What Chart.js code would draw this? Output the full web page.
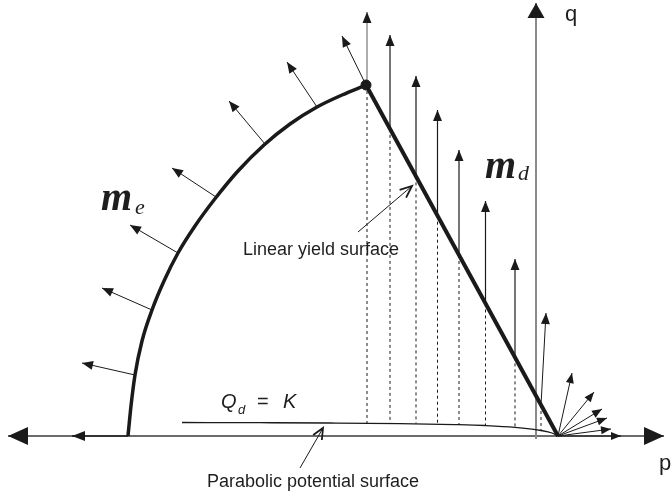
<!DOCTYPE html>
<html lang="en">
<head>
  <meta charset="UTF-8">
  <title>Yield and potential surfaces</title>
  <script src="https://cdn.jsdelivr.net/npm/chart.js"></script>
  <style>
    body { margin: 0; background: #fff; }
    #wrap { width: 671px; height: 502px; }
  </style>
</head>
<body>
  <div id="wrap"><canvas id="surfChart"></canvas></div>

  <script>
    // p runs along the horizontal axis, q is height above it
    const capP = [128, 131, 135, 142, 152, 164, 178, 195, 214, 238, 264, 290, 317, 342, 366];
    const capQ = [0, 30, 61, 95, 126, 155, 183, 210, 236, 265, 291, 312, 329, 341, 351];

    const yieldP = [366, 558];
    const yieldQ = [351, 0];

    const potP = [182, 260, 330, 400, 455, 485, 515, 541, 552, 558];
    const potQ = [13.5, 13.3, 13, 12.4, 11.4, 10.5, 8.7, 5.5, 3, 0];

    // normals on the elliptic cap (tail on the cap, tip outward)
    const capTailP = [135, 152, 178, 216, 265, 317, 366];
    const capTailQ = [61, 126, 183, 239, 292, 329, 351];
    const capTipP = [82, 102, 130, 172, 229, 287, 342];
    const capTipQ = [73, 148, 211, 268, 335, 374, 400];

    // vertical flow directions above the linear surface
    const dirP = [367, 390, 416, 437.5, 459, 485.5, 515];
    const dirTipQ = [424, 401, 360, 326, 286, 235, 177];
    const dirBaseQ = [13, 12.9, 12.6, 12.4, 12, 10.5, 8.7];

    // tilted one close to the tip
    const tiltP = [541, 546];
    const tiltQ = [31, 123];

    // fan of directions at the tip of the cone
    const fanP = [572, 594, 602, 607, 611, 621];
    const fanQ = [63, 44, 27, 18, 7, 0];

    const ink = '#1a1a1a';

    function pts(xs, ys) {
      return xs.map((x, i) => ({ x: x, y: ys[i] }));
    }

    function yieldAt(p) {
      const t = (p - yieldP[0]) / (yieldP[1] - yieldP[0]);
      return yieldQ[0] + t * (yieldQ[1] - yieldQ[0]);
    }

    function seg(data, color, width, head, dash) {
      return {
        data: data,
        showLine: true,
        borderColor: color,
        borderWidth: width,
        borderDash: dash || [],
        pointRadius: 0,
        fill: false,
        head: head || null
      };
    }

    const datasets = [];

    // apex point
    datasets.push({
      data: [{ x: yieldP[0], y: yieldQ[0] }],
      pointRadius: 5,
      pointBackgroundColor: ink,
      pointBorderColor: ink,
      showLine: false
    });

    datasets.push(seg(pts(yieldP, yieldQ), ink, 4));
    datasets.push(Object.assign(seg(pts(capP, capQ), ink, 3.5), { cubicInterpolationMode: 'monotone' }));

    const small = { len: 11, half: 4.5, color: ink };

    capTailP.forEach((p, i) => {
      datasets.push(seg([{ x: p, y: capTailQ[i] }, { x: capTipP[i], y: capTipQ[i] }], ink, 1, small));
    });

    dirP.forEach((p, i) => {
      const q0 = i === 0 ? yieldQ[0] : yieldAt(p);
      datasets.push(seg([{ x: p, y: q0 }, { x: p, y: dirTipQ[i] }], i === 0 ? '#777' : ink, 1.2, small));
      datasets.push(seg([{ x: p, y: q0 }, { x: p, y: dirBaseQ[i] }], ink, 1, null, [3, 3]));
    });

    datasets.push(seg(pts(tiltP, tiltQ), ink, 1, small));
    datasets.push(seg([{ x: tiltP[0], y: tiltQ[0] }, { x: tiltP[0], y: 5.5 }], ink, 1, null, [3, 3]));

    fanP.forEach((p, i) => {
      datasets.push(seg([{ x: yieldP[1], y: 0 }, { x: p, y: fanQ[i] }], ink, 1, { len: 10, half: 4, color: ink }));
    });

    // plastic potential Q_d = K
    datasets.push(Object.assign(seg(pts(potP, potQ), ink, 1.3), { cubicInterpolationMode: 'monotone' }));

    // pointers to the labels
    datasets.push(seg([{ x: 358, y: 204 }, { x: 412, y: 250 }], ink, 1, { len: 12, half: 5, open: true, color: ink }));
    datasets.push(seg([{ x: 300, y: -32 }, { x: 323, y: 8 }], ink, 1, { len: 11, half: 5, open: true, color: ink }));

    // short arrow left from the cap foot
    datasets.push(seg([{ x: capP[0], y: 0 }, { x: 72, y: 0 }], '#333', 2, { len: 13, half: 5, color: ink }));

    // q axis
    datasets.push(seg([{ x: 536, y: -3 }, { x: 536, y: 433 }], '#8a8a8a', 2, { len: 15, half: 8.5, color: ink }));

    // p axis, arrows both ways
    datasets.push(seg([{ x: 8, y: 0 }, { x: 664, y: 0 }], '#3a3a3a', 1.5, { len: 20, half: 9, both: true, color: ink }));

    const sans = '"Liberation Sans", Arial, sans-serif';
    const serif = '"Liberation Serif", serif';
    const labels = [
      { text: 'Linear yield surface', x: 243, y: 181, font: '18px ' + sans },
      { text: 'Parabolic potential surface', x: 207, y: -51, font: '18px ' + sans },
      { text: 'p', x: 659, y: -34, font: '22px ' + sans },
      { text: 'q', x: 565, y: 415, font: '22px ' + sans },
      { text: 'Q', x: 221, y: 28, font: 'italic 20px ' + sans },
      { text: 'd', x: 238, y: 22, font: 'italic 13px ' + sans },
      { text: '=', x: 257, y: 28, font: '20px ' + sans },
      { text: 'K', x: 283, y: 28, font: 'italic 20px ' + sans },
      { text: 'm', x: 101, y: 226, font: 'bold italic 40px ' + serif },
      { text: 'e', x: 135, y: 222, font: 'italic 22px ' + serif },
      { text: 'm', x: 485, y: 258, font: 'bold italic 40px ' + serif },
      { text: 'd', x: 518, y: 256, font: 'italic 22px ' + serif }
    ];

    function drawHead(ctx, tip, from, h) {
      const a = Math.atan2(tip.y - from.y, tip.x - from.x);
      const bx = tip.x - h.len * Math.cos(a);
      const by = tip.y - h.len * Math.sin(a);
      const nx = -Math.sin(a) * h.half;
      const ny = Math.cos(a) * h.half;
      ctx.beginPath();
      ctx.moveTo(bx + nx, by + ny);
      ctx.lineTo(tip.x, tip.y);
      ctx.lineTo(bx - nx, by - ny);
      if (h.open) {
        ctx.strokeStyle = h.color;
        ctx.lineWidth = 1.8;
        ctx.stroke();
      } else {
        ctx.closePath();
        ctx.fillStyle = h.color;
        ctx.fill();
      }
    }

    const arrowHeads = {
      id: 'arrowHeads',
      afterDatasetsDraw(chart) {
        const ctx = chart.ctx;
        ctx.save();
        chart.data.datasets.forEach((ds, i) => {
          if (!ds.head) return;
          const el = chart.getDatasetMeta(i).data;
          const n = el.length;
          drawHead(ctx, el[n - 1], el[n - 2], ds.head);
          if (ds.head.both) drawHead(ctx, el[0], el[1], ds.head);
        });
        ctx.restore();
      }
    };

    const textLabels = {
      id: 'textLabels',
      afterDraw(chart) {
        const ctx = chart.ctx;
        const xs = chart.scales.x, ys = chart.scales.y;
        ctx.save();
        ctx.fillStyle = '#1e1e1e';
        ctx.textBaseline = 'alphabetic';
        ctx.textAlign = 'left';
        labels.forEach(l => {
          ctx.font = l.font;
          ctx.fillText(l.text, xs.getPixelForValue(l.x), ys.getPixelForValue(l.y));
        });
        ctx.restore();
      }
    };

    new Chart(document.getElementById('surfChart'), {
      type: 'scatter',
      data: { datasets: datasets },
      options: {
        responsive: true,
        maintainAspectRatio: false,
        animation: false,
        layout: { padding: 0, autoPadding: false },
        plugins: {
          legend: { display: false },
          tooltip: { enabled: false }
        },
        scales: {
          x: { type: 'linear', min: 0, max: 671, display: false },
          y: { type: 'linear', min: -66, max: 436, display: false }
        }
      },
      plugins: [arrowHeads, textLabels]
    });
  </script>
</body>
</html>
